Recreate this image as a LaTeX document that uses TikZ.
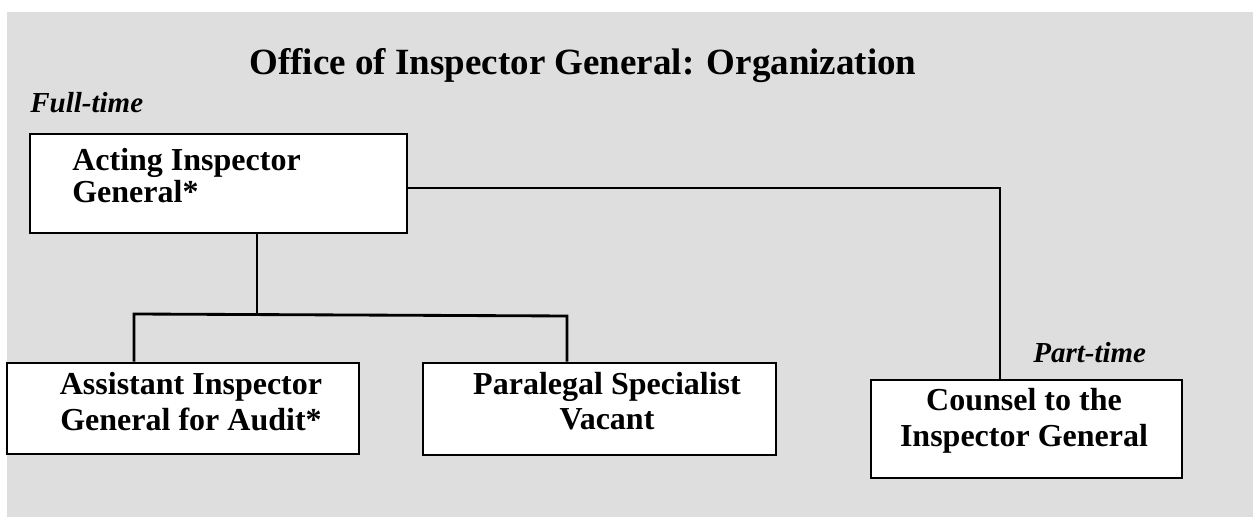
\documentclass[tikz,border=0pt]{standalone}
\usepackage{fontspec}
\setmainfont{Liberation Serif}
\definecolor{bggray}{RGB}{222,222,222}
\tikzset{
  orgbox/.style={draw=black, fill=white, line width=1.7pt, rectangle, inner sep=0pt},
  boxtext/.style={font=\bfseries\fontsize{19.2pt}{22pt}\selectfont, inner sep=0pt, align=center},
  link/.style={draw=black, line width=1.7pt},
  tag/.style={font=\bfseries\itshape\fontsize{17.4pt}{20pt}\selectfont, inner sep=0pt}
}
\begin{document}
\begin{tikzpicture}[x=0.6pt,y=-0.6pt]
\useasboundingbox (0,0) rectangle (1253,517);
\fill[bggray] (7,12) rectangle (1253,517);

\node[font=\bfseries\fontsize{22.2pt}{26pt}\selectfont, inner sep=0pt, anchor=base] (title) at (583,75) {Office of Inspector General: Organization};
\node[tag, anchor=base west] (full) at (30,113) {Full-time};
\node[tag, anchor=base west] (part) at (1033,363) {Part-time};

\node[orgbox, minimum width=226.2pt, minimum height=59.4pt] (acting) at (218.5,183.5) {};
\node[orgbox, minimum width=211.2pt, minimum height=54.6pt] (assist) at (183,408.5) {};
\node[orgbox, minimum width=211.8pt, minimum height=55.2pt] (para) at (599.5,409) {};
\node[orgbox, minimum width=186.6pt, minimum height=58.8pt] (counsel) at (1026.5,429) {};

\node[boxtext, align=left, font=\bfseries\fontsize{19.2pt}{19.5pt}\selectfont, anchor=base west] (actingtxt) at (72,203) {Acting Inspector\\General*};
\node[boxtext, anchor=base] (assisttxt) at (191,431) {Assistant Inspector\\General for Audit*};
\node[boxtext, font=\bfseries\fontsize{19.2pt}{21pt}\selectfont, anchor=base] (paratxt) at (607,430) {Paralegal Specialist\\Vacant};
\node[boxtext, anchor=base] (counseltxt) at (1024,447) {Counsel to the\\Inspector General};

\coordinate (j1) at (257,314);
\coordinate (jl) at (134,314);
\coordinate (jr) at (567,316);
\coordinate (rc) at (1000,188);

\draw[link] (acting.south -| j1) -- (j1);
\draw[link] (assist.north -| jl) -- (jl) -- (jr) -- (para.north -| jr);
\draw[link] (acting.east |- rc) -- (rc) -- (counsel.north -| rc);
\end{tikzpicture}
\end{document}
